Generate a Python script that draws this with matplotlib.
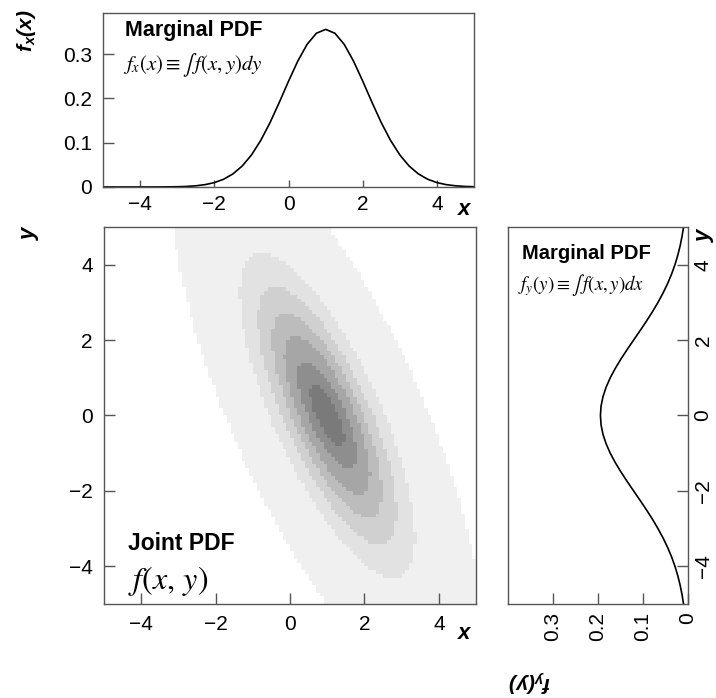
import numpy as np
import matplotlib
matplotlib.use("Agg")
import matplotlib.pyplot as plt
from matplotlib.colors import ListedColormap, BoundaryNorm

plt.rcParams["font.family"] = ["Liberation Sans", "DejaVu Sans"]
plt.rcParams["mathtext.fontset"] = "custom"
plt.rcParams["mathtext.bf"] = "Liberation Sans:bold:italic"
plt.rcParams["mathtext.rm"] = "Liberation Sans:bold"
plt.rcParams["mathtext.it"] = "Liberation Sans:bold:italic"

# marginal of x
x_grid = np.arange(-5.0, 5.01, 0.25)
fx_vals = [0.0000, 0.0000, 0.0000, 0.0000, 0.0000, 0.0000, 0.0001, 0.0003, 0.0006,
           0.0013, 0.0027, 0.0053, 0.0099, 0.0175, 0.0295, 0.0473, 0.0723, 0.1051,
           0.1452, 0.1910, 0.2390, 0.2845, 0.3222, 0.3472, 0.3560, 0.3472, 0.3222,
           0.2845, 0.2390, 0.1910, 0.1452, 0.1051, 0.0723, 0.0473, 0.0295, 0.0175,
           0.0099, 0.0053, 0.0027, 0.0013, 0.0006]

# marginal of y
y_grid = np.arange(-5.0, 5.01, 0.25)
fy_half = [0.1946, 0.1932, 0.1889, 0.1820, 0.1728, 0.1616, 0.1489, 0.1352, 0.1209,
           0.1065, 0.0925, 0.0791, 0.0667, 0.0554, 0.0453, 0.0365, 0.0290, 0.0227,
           0.0175, 0.0133, 0.0099]
fy_vals = fy_half[:0:-1] + fy_half

# joint pdf: bivariate normal
mean_xy = (1.0, 0.0)
sigma_x, sigma_y, rho = 1.12, 2.05, -0.75
level_rel = [0.001, 0.11, 0.25, 0.42, 0.59, 0.78, 0.92, 1.01]
band_grays = ["#f0f0f0", "#e2e2e2", "#d0d0d0", "#bcbcbc", "#a6a6a6", "#8e8e8e",
              "#7a7a7a"]

fig = plt.figure(figsize=(7.16, 6.98), dpi=100, facecolor="white")
axT = fig.add_axes([0.1439, 0.7321, 0.5182, 0.2493])
axM = fig.add_axes([0.1453, 0.1347, 0.5196, 0.5401])
axR = fig.add_axes([0.7095, 0.1347, 0.2514, 0.5401])

for ax in (axT, axM, axR):
    for s in ax.spines.values():
        s.set_color("#555555")
        s.set_linewidth(1.0)
    ax.tick_params(direction="in", length=8, width=1.0, color="#555555",
                   labelsize=15, pad=8)

# -- top: f_x(x) --------------------------------------------------------------
axT.plot(x_grid, fx_vals, color="black", lw=1.2)
axT.set_xlim(-5, 5)
axT.set_ylim(0, 0.393)
axT.set_xticks([-4, -2, 0, 2, 4])
axT.set_xticklabels(["\u22124", "\u22122", "0", "2", "4"])
axT.set_yticks([0, 0.1, 0.2, 0.3])
axT.set_yticklabels(["0", "0.1", "0.2", "0.3"])
axT.tick_params(axis="x", length=5, pad=6)
axT.text(0.06, 0.9, "Marginal PDF", transform=axT.transAxes, fontsize=15.5,
         fontweight="bold", va="center")
axT.text(0.055, 0.7, r"$f_x(x) \equiv \int\, f(x,y)dy$", transform=axT.transAxes,
         fontsize=15, va="center", math_fontfamily="stix")

# -- main: joint ----------------------------------------------------------------
edges = np.linspace(-5, 5, 101)
cx = 0.5 * (edges[:-1] + edges[1:])
GX, GY = np.meshgrid(cx, cx)
zx = (GX - mean_xy[0]) / sigma_x
zy = (GY - mean_xy[1]) / sigma_y
d2 = (zx**2 - 2 * rho * zx * zy + zy**2) / (1 - rho**2)
rel = np.exp(-0.5 * d2)
cmap = ListedColormap(band_grays)
cmap.set_under("white")
axM.pcolormesh(edges, edges, rel, cmap=cmap,
               norm=BoundaryNorm(level_rel, cmap.N), shading="flat")
axM.set_xlim(-5, 5)
axM.set_ylim(-5, 5)
axM.set_xticks([-4, -2, 0, 2, 4])
axM.set_xticklabels(["\u22124", "\u22122", "0", "2", "4"])
axM.set_yticks([-4, -2, 0, 2, 4])
axM.set_yticklabels(["\u22124", "\u22122", "0", "2", "4"])
axM.text(0.065, 0.16, "Joint PDF", transform=axM.transAxes, fontsize=16.5,
         fontweight="bold", va="center")
axM.text(0.065, 0.062, r"$f(x,\,y)$", transform=axM.transAxes, fontsize=23,
         va="center", math_fontfamily="stix")

# -- right: f_y(y), turned on its side ------------------------------------------
axR.plot(fy_vals, y_grid, color="black", lw=1.2)
axR.set_xlim(0.4, 0)
axR.set_ylim(-5, 5)
axR.set_xticks([0, 0.1, 0.2, 0.3])
axR.set_xticklabels(["0", "0.1", "0.2", "0.3"], rotation=90)
axR.set_yticks([-4, -2, 0, 2, 4])
axR.set_yticklabels(["\u22124", "\u22122", "0", "2", "4"], rotation=90, va="center")
axR.yaxis.tick_right()
axR.tick_params(axis="y", pad=4)
axR.tick_params(axis="x", pad=6)
axR.text(0.08, 0.93, "Marginal PDF", transform=axR.transAxes, fontsize=14.5,
         fontweight="bold", va="center")
axR.text(0.055, 0.845, r"$f_y(y) \equiv \int\, f(x,y)dx$", transform=axR.transAxes,
         fontsize=13.5, va="center", math_fontfamily="stix")

# axis titles, placed ROOT-style
fig.text(0.037, 0.956, r"$\mathbf{f_x(x)}$", rotation=90, fontsize=15,
         ha="center", va="center")
fig.text(0.65, 0.700, r"$\mathbf{x}$", fontsize=16, ha="center", va="center")
fig.text(0.043, 0.668, r"$\mathbf{y}$", rotation=90, fontsize=16, ha="center",
         va="center")
fig.text(0.65, 0.092, r"$\mathbf{x}$", fontsize=16, ha="center", va="center")
fig.text(0.986, 0.665, r"$\mathbf{y}$", rotation=90, fontsize=16, ha="center",
         va="center")
fig.text(0.74, 0.024, r"$\mathbf{f_y(y)}$", rotation=180, fontsize=15,
         ha="center", va="center")

fig.savefig("out.png", dpi=100, facecolor="white")
